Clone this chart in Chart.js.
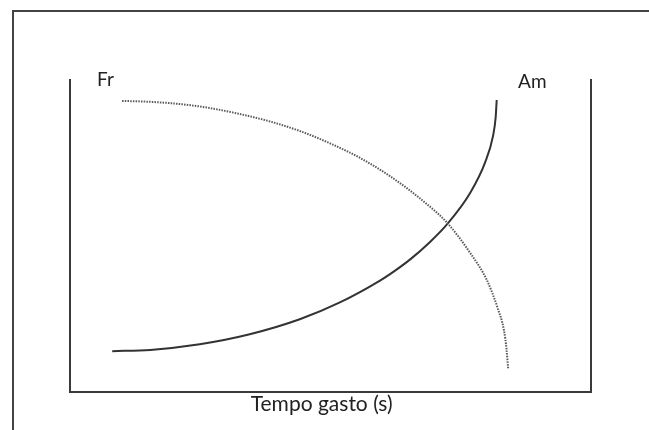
<!DOCTYPE html>
<html>
<head>
<meta charset="utf-8">
<script src="https://cdn.jsdelivr.net/npm/chart.js@4"></script>
<style>
  html, body { margin: 0; padding: 0; background: #fff; overflow: hidden; }
  #wrap { position: relative; width: 649px; height: 430px; }
  #frame { position: absolute; left: 12px; top: 10px; width: 700px; height: 500px;
           border-top: 2px solid #444; border-left: 2px solid #444; }
  canvas { position: absolute; left: 0; top: 0; }
</style>
</head>
<body>
<div id="wrap">
  <div id="frame"></div>
  <canvas id="chart" width="649" height="430"></canvas>
</div>
<script>
// Fr (dotted)
const frX = [10.0, 15.4, 21.1, 26.9, 32.6, 38.4, 44.2, 49.9, 55.7, 61.4, 67.2, 72.4, 76.8, 80.0, 82.1, 83.3, 83.8, 84.1];
const frY = [93.3, 93.0, 92.3, 91.0, 89.1, 86.7, 83.6, 79.7, 75.0, 69.2, 62.0, 54.2, 44.6, 35.9, 26.8, 19.7, 13.5, 7.4];

// Am (solid)
const amX = [8.1, 15.4, 24.9, 34.5, 44.1, 51.8, 59.5, 62.4, 65.3, 69.1, 72.4, 76.8, 79.7, 81.2, 81.7, 81.9];
const amY = [13.1, 13.5, 15.3, 18.5, 23.3, 28.7, 35.7, 38.9, 42.5, 48.1, 53.8, 63.8, 73.7, 82.1, 88.0, 93.6];

// text labels and where they sit (data units)
const labels = [
    { text: 'Fr', x: 5.2, y: 98.0, size: 19, align: 'left' },
    { text: 'Am', x: 86.0, y: 97.4, size: 19, align: 'left' },
    { text: 'Tempo gasto (s)', x: 48.3, y: -6.2, size: 21, align: 'center' }
];

function toPoints(xs, ys) {
    return xs.map((x, i) => ({ x: x, y: ys[i] }));
}

const textPlugin = {
    id: 'textLabels',
    afterDraw(chart) {
        const ctx = chart.ctx;
        const xs = chart.scales.x;
        const ys = chart.scales.y;
        ctx.save();
        ctx.fillStyle = '#222';
        ctx.textBaseline = 'alphabetic';
        labels.forEach(l => {
            ctx.font = l.size + 'px Lato';
            ctx.textAlign = l.align;
            ctx.fillText(l.text, xs.getPixelForValue(l.x), ys.getPixelForValue(l.y));
        });
        ctx.restore();
    }
};

const axisBorder = { display: true, color: '#3a3a3a', width: 2 };

const ctx = document.getElementById('chart').getContext('2d');
const chart = new Chart(ctx, {
    type: 'line',
    data: {
        datasets: [{
            label: 'Fr',
            data: toPoints(frX, frY),
            borderColor: '#5a5a5a',
            borderWidth: 2,
            borderDash: [1.5, 1.2],
            pointRadius: 0,
            cubicInterpolationMode: 'monotone',
            fill: false
        }, {
            label: 'Am',
            data: toPoints(amX, amY),
            borderColor: '#333',
            borderWidth: 2,
            pointRadius: 0,
            cubicInterpolationMode: 'monotone',
            fill: false
        }]
    },
    options: {
        responsive: false,
        animation: false,
        layout: { padding: { left: 70, right: 58, top: 80, bottom: 38 } },
        plugins: { legend: { display: false }, tooltip: { enabled: false } },
        scales: {
            x: {
                type: 'linear', min: 0, max: 100,
                grid: { display: false },
                ticks: { display: false },
                border: axisBorder,
                afterFit: s => { s.height = 0; }
            },
            y: {
                min: 0, max: 100,
                grid: { display: false },
                ticks: { display: false },
                border: axisBorder,
                afterFit: s => { s.width = 0; }
            },
            y2: {
                position: 'right', min: 0, max: 100,
                grid: { display: false },
                ticks: { display: false },
                border: axisBorder,
                afterFit: s => { s.width = 0; }
            }
        }
    },
    plugins: [textPlugin]
});
</script>
</body>
</html>
